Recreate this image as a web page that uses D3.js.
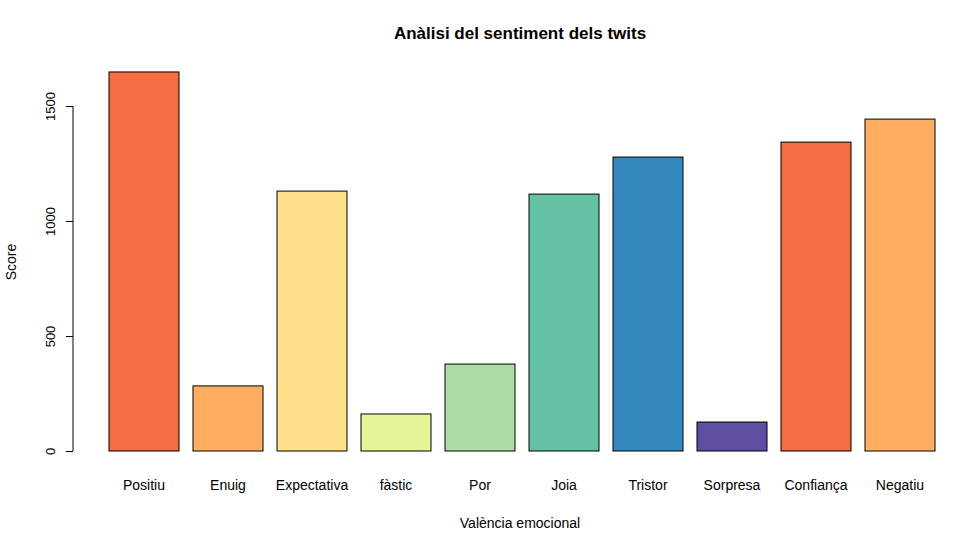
<!DOCTYPE html>
<html><head><meta charset="utf-8">
<script src="https://cdn.jsdelivr.net/npm/d3@7"></script>
<style>body{margin:0;background:#fff}text{font-family:"Liberation Sans",Arial,sans-serif}</style>
</head><body>
<svg id="c" width="955" height="539"></svg>
<script>
const categories=["Positiu","Enuig","Expectativa","fàstic","Por","Joia","Tristor","Sorpresa","Confiança","Negatiu"];
const values=[1648,283,1130,161,378,1117,1278,126,1343,1443];
const colors=["#F46D43","#FDAE61","#FEE08B","#E6F598","#ABDDA4","#66C2A5","#3288BD","#5E4FA2","#F46D43","#FDAE61"];
const yTicks=[0,500,1000,1500];
const svg=d3.select("#c");
const x=d3.scaleLinear().domain([0,12]).range([95,935]);
const y=d3.scaleLinear().domain([0,1500]).range([451,106]);
svg.selectAll("rect").data(values).join("rect")
 .attr("x",(d,i)=>x(0.2+1.2*i)).attr("width",x(1)-x(0))
 .attr("y",d=>y(d)).attr("height",d=>y(0)-y(d))
 .attr("fill",(d,i)=>colors[i]).attr("stroke","#000").attr("stroke-width",1);
const ax=svg.append("g").attr("transform","translate(73,0)")
 .call(d3.axisLeft(y).tickValues(yTicks).tickSize(7).tickPadding(4).tickFormat(d3.format("d")));
ax.select(".domain").attr("d","M0,"+y(0)+"V"+y(1500));
ax.selectAll(".tick text").attr("font-size",13).attr("x",0).attr("y",0).attr("dy",0)
 .attr("transform","translate(-18,0) rotate(-90)")
 .style("text-anchor","middle").attr("font-family","Liberation Sans, Arial, sans-serif");
svg.selectAll(".cat").data(categories).join("text")
 .attr("x",(d,i)=>x(0.7+1.2*i)).attr("y",490).attr("text-anchor","middle")
 .attr("font-size",14).text(d=>d);
svg.append("text").attr("x",520).attr("y",39).attr("text-anchor","middle")
 .attr("font-size",17).attr("font-weight","bold").text("Anàlisi del sentiment dels twits");
svg.append("text").attr("x",520).attr("y",528).attr("text-anchor","middle")
 .attr("font-size",14).text("València emocional");
svg.append("text").attr("transform","translate(16,262) rotate(-90)").attr("text-anchor","middle")
 .attr("font-size",14).text("Score");
</script></body></html>
